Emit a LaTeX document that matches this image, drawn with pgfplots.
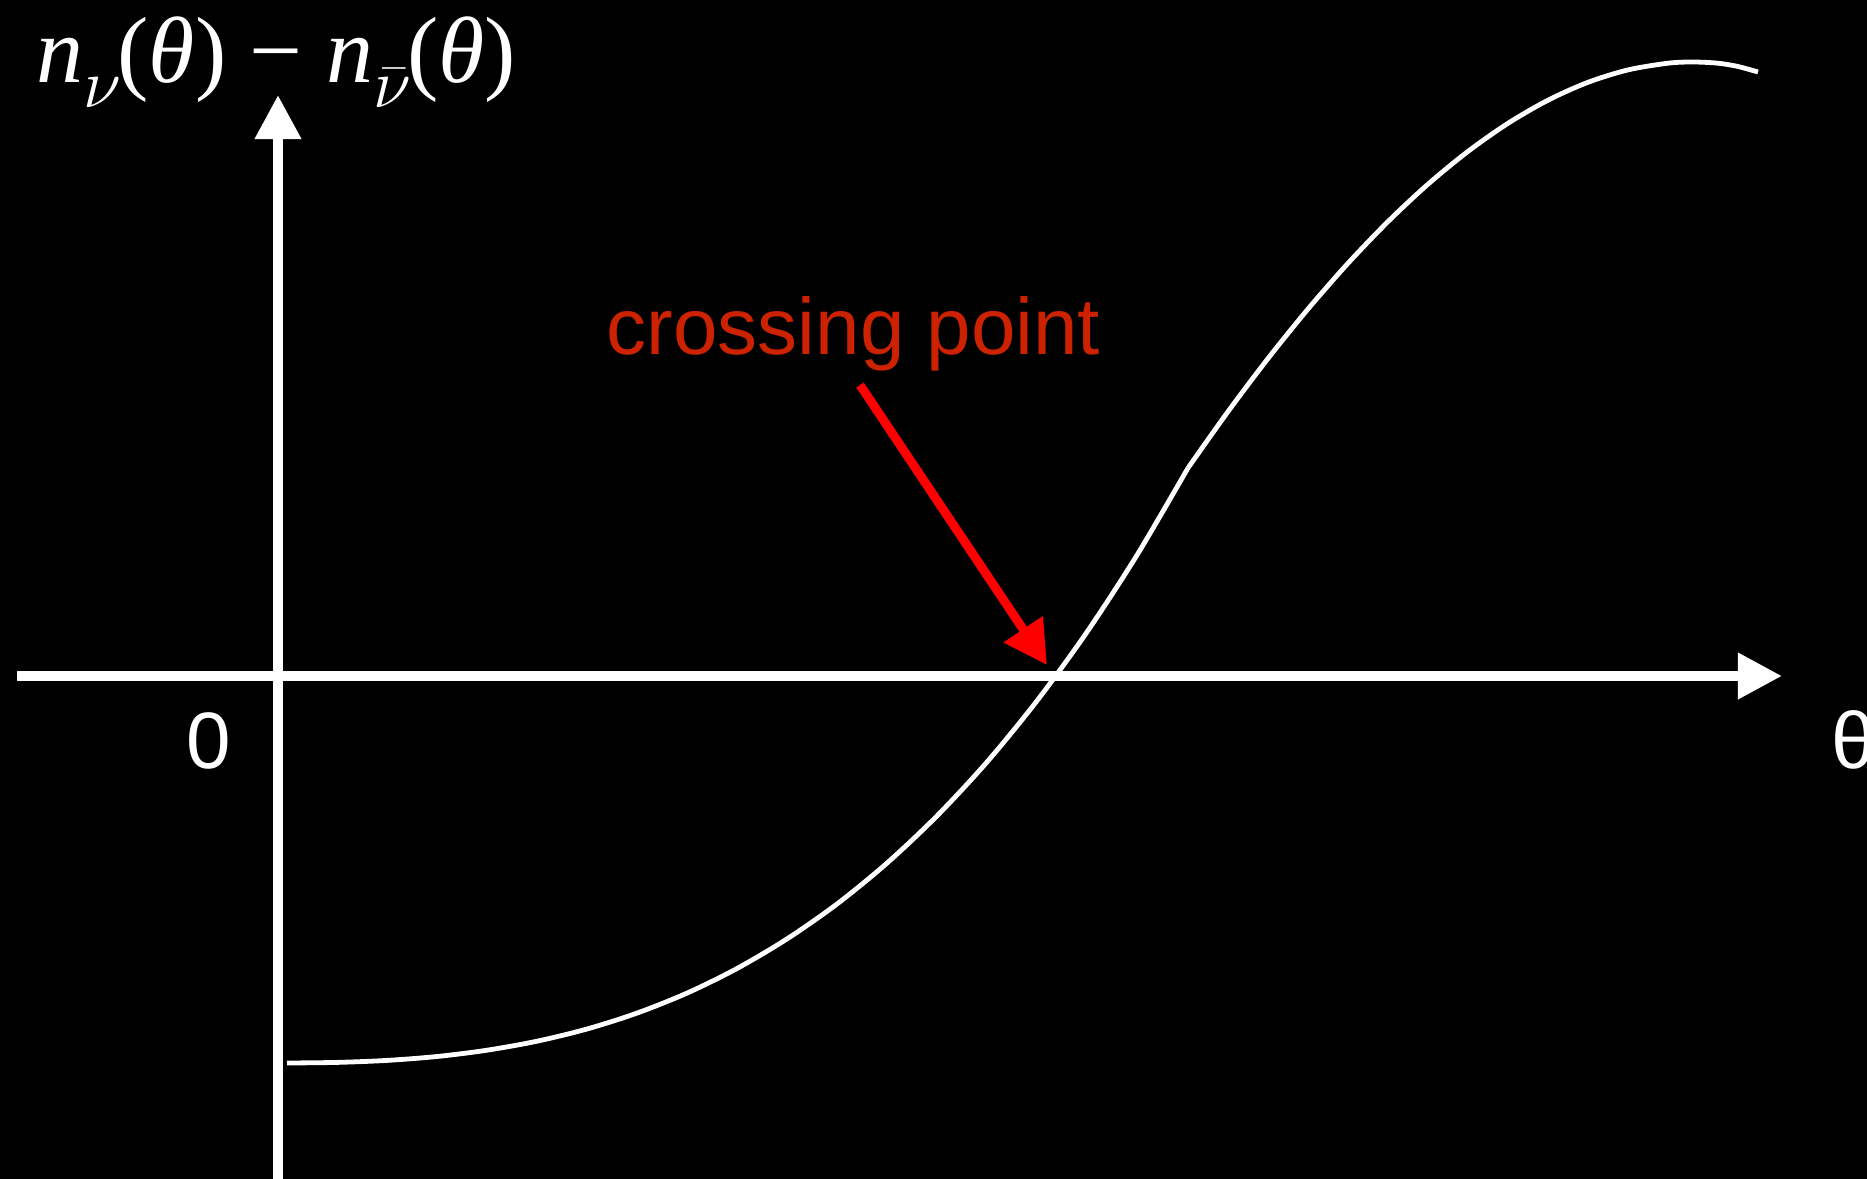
\documentclass[border=0pt]{standalone}
\usepackage{fontspec}
\setmainfont{Liberation Sans}
\newfontfamily\tms{Liberation Serif}
\usepackage{pgfplots}
\pgfplotsset{compat=1.18}
\usetikzlibrary{arrows.meta}
\definecolor{lblred}{RGB}{204,34,0}
\newcommand\sub[1]{\raisebox{-6.25pt}{\fontsize{19pt}{19pt}\selectfont #1}\kern-1pt}
\begin{document}
\begin{tikzpicture}
\fill[black] (0,0) rectangle (466.75pt,294.75pt);
\begin{axis}[at={(0,0)},anchor=south west,scale only axis,
  width=466.75pt,height=294.75pt,
  xmin=0,xmax=1867,ymin=0,ymax=1179,y dir=reverse,
  hide axis,clip=false]
% axes
\addplot[white,line width=2.5pt,-{Triangle[length=11pt,width=11pt]}] coordinates {(17,676) (1782,676)};
\addplot[white,line width=2.5pt,-{Triangle[length=11pt,width=11pt]}] coordinates {(278,1185) (278,95)};
% curve, lower part
\addplot[white,line width=1.2pt,smooth] table {
287 1063
337 1062.4
387 1060.4
437 1056.5
487 1050.2
537 1041.2
587 1029.0
637 1013.1
687 993.1
737 968.5
787 938.9
837 904.0
887 863.1
937 815.9
987 762.0
1037 700.8
1087 632.0
1137 555.1
1188 468
};
% curve, upper part
\addplot[white,line width=1.2pt,smooth] table {
1188 468
1228 411.6
1268 358.5
1308 309.0
1348 263.3
1388 221.6
1428 184.2
1468 151.4
1508 123.3
1548 100.2
1588 82.3
1628 69.9
1668 63.2
1693 62
1718 63.2
1738 66.5
1758 72
};
% red arrow
\addplot[red,line width=2.25pt,-{Triangle[length=10.75pt,width=11.25pt]}] coordinates {(860,385) (1047,665)};
\node[anchor=base west,inner sep=0,text=lblred,font=\fontsize{20pt}{24pt}\selectfont] at (axis cs:606,354) {crossing point};
\node[anchor=base,inner sep=0,text=white,font=\fontsize{20pt}{24pt}\selectfont] at (axis cs:209,768) {0};
\node[anchor=base west,inner sep=0,text=white,font=\fontsize{20pt}{24pt}\selectfont] at (axis cs:1831,768) {θ};
\node[anchor=base west,inner sep=0,text=white,font=\tms\fontsize{23.5pt}{26pt}\selectfont] at (axis cs:36,82)
  {\itshape n\sub{$\nu$}\upshape(\itshape θ\upshape) − \itshape n\sub{$\bar{\nu}$}\upshape(\itshape θ\upshape)};
\end{axis}
\pgfresetboundingbox
\path[use as bounding box] (0,0) rectangle (466.75pt,294.75pt);
\end{tikzpicture}
\end{document}
